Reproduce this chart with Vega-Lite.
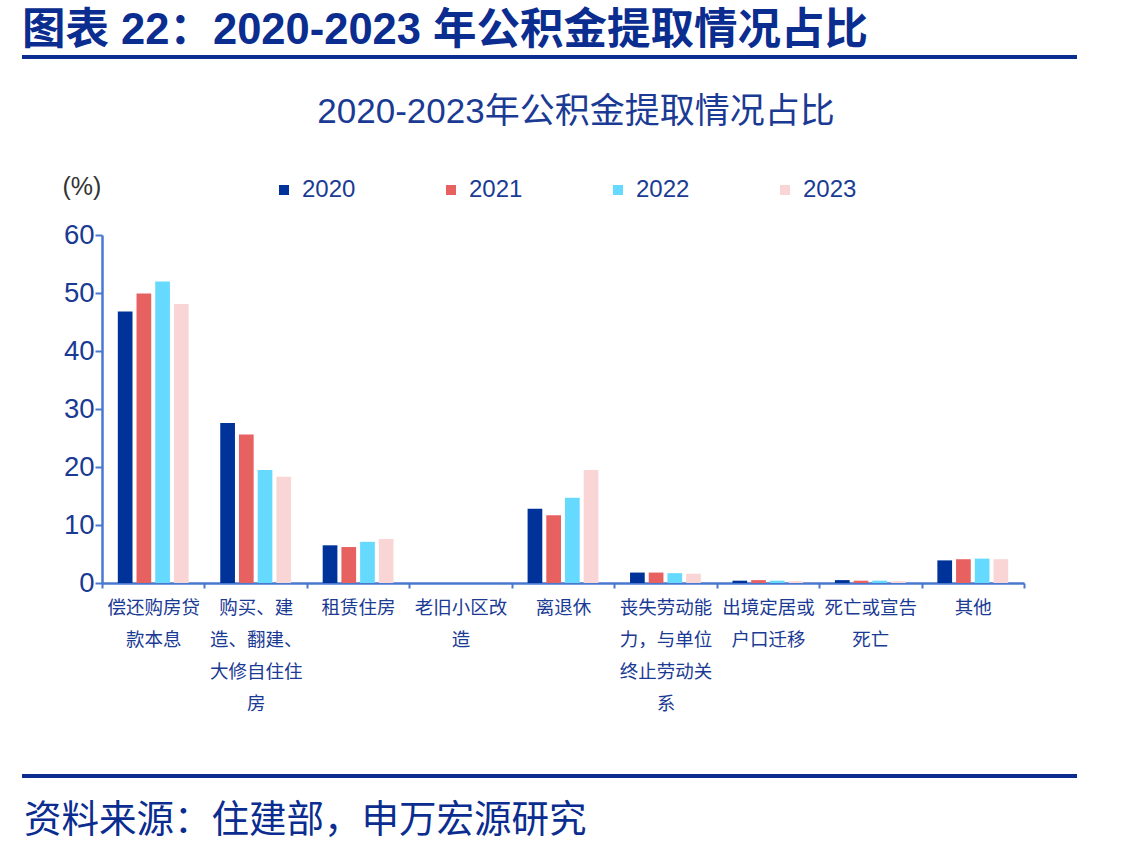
{
  "$schema": "https://vega.github.io/schema/vega-lite/v6.json",
  "background": "white",
  "padding": {"left": 20, "top": 8, "right": 0, "bottom": 0},
  "bounds": "flush",
  "spacing": 178,
  "resolve": {"legend": {"color": "independent"}},
  "config": {
    "view": {"stroke": null},
    "font": "Liberation Sans, Noto Sans CJK SC, sans-serif",
    "text": {"font": "Liberation Sans, Noto Sans CJK SC, sans-serif"}
  },
  "datasets": {
    "withdrawals": [
      {"cat": "偿还购房贷\n款本息", "year": "2020", "value": 46.8},
      {"cat": "偿还购房贷\n款本息", "year": "2021", "value": 49.9},
      {"cat": "偿还购房贷\n款本息", "year": "2022", "value": 52.0},
      {"cat": "偿还购房贷\n款本息", "year": "2023", "value": 48.1},
      {"cat": "购买、建\n造、翻建、\n大修自住住\n房", "year": "2020", "value": 27.6},
      {"cat": "购买、建\n造、翻建、\n大修自住住\n房", "year": "2021", "value": 25.6},
      {"cat": "购买、建\n造、翻建、\n大修自住住\n房", "year": "2022", "value": 19.5},
      {"cat": "购买、建\n造、翻建、\n大修自住住\n房", "year": "2023", "value": 18.3},
      {"cat": "租赁住房", "year": "2020", "value": 6.5},
      {"cat": "租赁住房", "year": "2021", "value": 6.2},
      {"cat": "租赁住房", "year": "2022", "value": 7.1},
      {"cat": "租赁住房", "year": "2023", "value": 7.6},
      {"cat": "老旧小区改\n造", "year": "2020", "value": 0},
      {"cat": "老旧小区改\n造", "year": "2021", "value": 0},
      {"cat": "老旧小区改\n造", "year": "2022", "value": 0},
      {"cat": "老旧小区改\n造", "year": "2023", "value": 0},
      {"cat": "离退休", "year": "2020", "value": 12.8},
      {"cat": "离退休", "year": "2021", "value": 11.7},
      {"cat": "离退休", "year": "2022", "value": 14.7},
      {"cat": "离退休", "year": "2023", "value": 19.5},
      {"cat": "丧失劳动能\n力，与单位\n终止劳动关\n系", "year": "2020", "value": 1.8},
      {"cat": "丧失劳动能\n力，与单位\n终止劳动关\n系", "year": "2021", "value": 1.8},
      {"cat": "丧失劳动能\n力，与单位\n终止劳动关\n系", "year": "2022", "value": 1.7},
      {"cat": "丧失劳动能\n力，与单位\n终止劳动关\n系", "year": "2023", "value": 1.6},
      {"cat": "出境定居或\n户口迁移", "year": "2020", "value": 0.4},
      {"cat": "出境定居或\n户口迁移", "year": "2021", "value": 0.5},
      {"cat": "出境定居或\n户口迁移", "year": "2022", "value": 0.4},
      {"cat": "出境定居或\n户口迁移", "year": "2023", "value": 0.3},
      {"cat": "死亡或宣告\n死亡", "year": "2020", "value": 0.5},
      {"cat": "死亡或宣告\n死亡", "year": "2021", "value": 0.4},
      {"cat": "死亡或宣告\n死亡", "year": "2022", "value": 0.4},
      {"cat": "死亡或宣告\n死亡", "year": "2023", "value": 0.3},
      {"cat": "其他", "year": "2020", "value": 3.9},
      {"cat": "其他", "year": "2021", "value": 4.1},
      {"cat": "其他", "year": "2022", "value": 4.2},
      {"cat": "其他", "year": "2023", "value": 4.1}
    ],
    "frame": [{"from": 0, "to": 1}]
  },
  "vconcat": [
    {
      "title": {
        "text": "图表 22：2020-2023 年公积金提取情况占比",
        "anchor": "start",
        "frame": "group",
        "dx": -80,
        "offset": 2,
        "fontSize": 43.5,
        "fontWeight": "bold",
        "font": "Liberation Sans Narrow, Liberation Sans, Noto Sans CJK SC, sans-serif",
        "color": "#0a2d8f"
      },
      "width": 922,
      "height": 2,
      "data": {"name": "frame"},
      "mark": {"type": "rule", "color": "#0a2d8f", "strokeWidth": 4, "xOffset": -80, "x2Offset": 53},
      "encoding": {
        "x": {"field": "from", "type": "quantitative", "scale": {"domain": [0, 1]}, "axis": null},
        "x2": {"field": "to"},
        "y": {"datum": 0, "type": "quantitative", "scale": {"domain": [0, 1]}, "axis": null}
      }
    },
    {
      "title": {
        "text": "2020-2023年公积金提取情况占比",
        "anchor": "middle",
        "frame": "group",
        "dx": 13,
        "offset": 44,
        "fontSize": 35,
        "fontWeight": "normal",
        "color": "#1a3a94"
      },
      "width": 922,
      "height": 348,
      "data": {"name": "withdrawals"},
      "mark": {"type": "bar"},
      "encoding": {
        "x": {
          "field": "cat",
          "type": "nominal",
          "sort": null,
          "scale": {"paddingInner": 0, "paddingOuter": 0},
          "axis": {
            "title": null,
            "labelAngle": 0,
            "tickBand": "extent",
            "domainColor": "#4a78cf",
            "domainWidth": 2.5,
            "tickColor": "#4a78cf",
            "tickWidth": 2,
            "tickSize": 5,
            "labelFontSize": 18.5,
            "labelColor": "#1a3a94",
            "labelPadding": 10,
            "labelBaseline": "top",
            "labelLineHeight": 32,
            "labelOverlap": false,
            "labelLimit": 0,
            "labelExpr": "split(datum.label, '\\n')"
          }
        },
        "xOffset": {
          "field": "year",
          "type": "nominal",
          "scale": {"paddingInner": 0.214, "paddingOuter": 0.845}
        },
        "y": {
          "field": "value",
          "type": "quantitative",
          "scale": {"domain": [0, 60], "nice": false},
          "axis": {
            "values": [0, 10, 20, 30, 40, 50, 60],
            "grid": false,
            "domainColor": "#4a78cf",
            "domainWidth": 2.5,
            "tickColor": "#4a78cf",
            "tickWidth": 2,
            "tickSize": 7,
            "labelFontSize": 27.5,
            "labelColor": "#1a3a94",
            "labelPadding": 1,
            "title": "(%)",
            "titleAngle": 0,
            "titleX": -40,
            "titleY": -49,
            "titleAlign": "left",
            "titleBaseline": "middle",
            "titleFontSize": 25,
            "titleFontWeight": "normal",
            "titleColor": "#333333"
          }
        },
        "color": {
          "field": "year",
          "type": "nominal",
          "scale": {
            "domain": ["2020", "2021", "2022", "2023"],
            "range": ["#003399", "#e86161", "#66d9ff", "#f9d5d6"]
          },
          "legend": {
            "orient": "none",
            "legendX": 170,
            "legendY": -57,
            "direction": "horizontal",
            "title": null,
            "symbolType": "square",
            "symbolSize": 100,
            "symbolStrokeWidth": 0,
            "symbolOpacity": 1,
            "labelFontSize": 24,
            "labelColor": "#1a3a94",
            "labelOffset": 6,
            "columnPadding": 83
          }
        }
      }
    },
    {
      "title": {
        "text": "资料来源：住建部，申万宏源研究",
        "orient": "bottom",
        "anchor": "start",
        "frame": "group",
        "dx": -78,
        "offset": 24,
        "fontSize": 37.5,
        "fontWeight": "normal",
        "color": "#0a2d8f"
      },
      "width": 922,
      "height": 15,
      "data": {"name": "frame"},
      "mark": {"type": "rule", "color": "#0a2d8f", "strokeWidth": 4, "xOffset": -80, "x2Offset": 53},
      "encoding": {
        "x": {"field": "from", "type": "quantitative", "scale": {"domain": [0, 1]}, "axis": null},
        "x2": {"field": "to"},
        "y": {"datum": 0, "type": "quantitative", "scale": {"domain": [0, 1]}, "axis": null}
      }
    }
  ]
}
